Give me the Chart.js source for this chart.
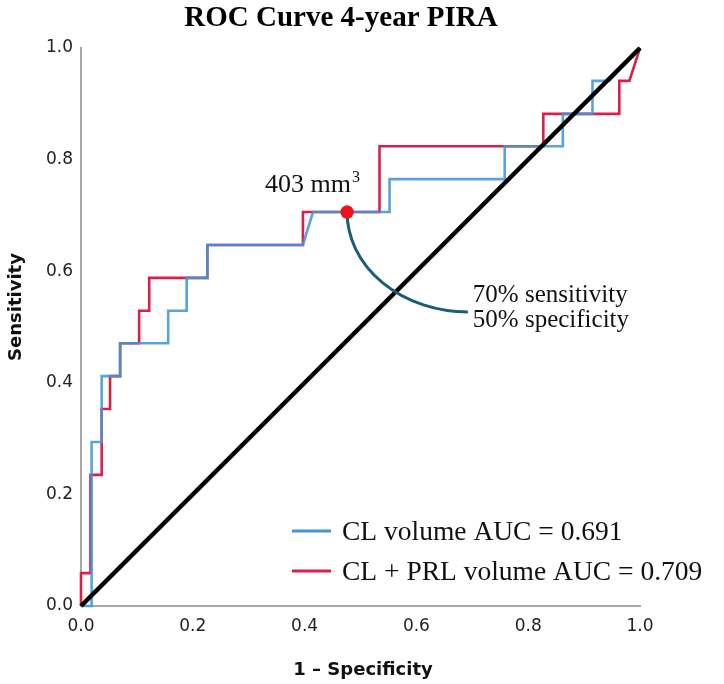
<!DOCTYPE html>
<html>
<head>
<meta charset="utf-8">
<script src="https://cdn.jsdelivr.net/npm/chart.js@4.4.1/dist/chart.umd.min.js"></script>
<style>
  html, body { margin: 0; padding: 0; background: #ffffff; }
  #wrap { width: 724px; height: 684px; position: relative; }
</style>
</head>
<body>
<div id="wrap"><canvas id="c" width="724" height="684"></canvas></div>
<script>
// ---- Data ----
const chartTitle = "ROC Curve 4-year PIRA";
const xAxisTitle = "1 \u2013 Specificity";
const yAxisTitle = "Sensitivity";
const tickValues = [0.0, 0.2, 0.4, 0.6, 0.8, 1.0];

const clLabel = "CL volume AUC = 0.691";
const clFpr = [0, 0.019, 0.019, 0.037, 0.037, 0.070, 0.070, 0.156, 0.156, 0.189, 0.189, 0.226, 0.226, 0.397, 0.415, 0.552, 0.552, 0.758, 0.758, 0.862, 0.862, 0.915, 0.915, 0.945, 1.0];
const clTpr = [0, 0, 0.294, 0.294, 0.412, 0.412, 0.471, 0.471, 0.529, 0.529, 0.588, 0.588, 0.647, 0.647, 0.706, 0.706, 0.765, 0.765, 0.824, 0.824, 0.882, 0.882, 0.941, 0.941, 1.0];

const prlLabel = "CL + PRL volume AUC = 0.709";
const prlFpr = [0, 0, 0.017, 0.017, 0.037, 0.037, 0.052, 0.052, 0.070, 0.070, 0.104, 0.104, 0.122, 0.122, 0.226, 0.226, 0.397, 0.397, 0.534, 0.534, 0.827, 0.827, 0.963, 0.963, 0.981, 1.0];
const prlTpr = [0, 0.059, 0.059, 0.235, 0.235, 0.353, 0.353, 0.412, 0.412, 0.471, 0.471, 0.529, 0.529, 0.588, 0.588, 0.647, 0.647, 0.706, 0.706, 0.824, 0.824, 0.882, 0.882, 0.941, 0.941, 1.0];

const refFpr = [0, 1];
const refTpr = [0, 1];

// cut-off point and its callout
const cutFpr = [0.476];
const cutTpr = [0.706];
const cutLabel = "403 mm";
const cutLabelSup = "3";
const calloutEnd = { x: 0.692, y: 0.527 };
const calloutLines = ["70% sensitivity", "50% specificity"];

// ---- Build ----
const toPts = (xs, ys) => xs.map((x, i) => ({ x: x, y: ys[i] }));

const BLUE = "rgba(66,150,216,0.88)";
const RED = "#dc1e4a";
const TEAL = "#1b5c76";

const overlay = {
  id: "overlay",
  afterDatasetsDraw(chart) {
    const ctx = chart.ctx;
    const xs = chart.scales.x, ys = chart.scales.y;
    ctx.save();
    // callout curve (quarter ellipse) from cut point to label
    const px = xs.getPixelForValue(cutFpr[0]);
    const py = ys.getPixelForValue(cutTpr[0]);
    const ex = xs.getPixelForValue(calloutEnd.x);
    const ey = ys.getPixelForValue(calloutEnd.y);
    ctx.strokeStyle = TEAL;
    ctx.lineWidth = 3;
    ctx.beginPath();
    ctx.ellipse(ex, py, ex - px, ey - py, 0, Math.PI / 2, Math.PI, false);
    ctx.stroke();
    // redraw dot on top
    ctx.fillStyle = "#f0101e";
    ctx.beginPath();
    ctx.arc(px, py, 6.5, 0, Math.PI * 2);
    ctx.fill();

    // title
    ctx.fillStyle = "#000";
    ctx.textAlign = "center";
    ctx.textBaseline = "alphabetic";
    ctx.font = "bold 29px 'Liberation Serif', 'Times New Roman', serif";
    ctx.fillText(chartTitle, 341, 26);

    // axis titles
    ctx.font = "bold 18px 'DejaVu Sans', sans-serif";
    ctx.fillStyle = "#111";
    ctx.textBaseline = "middle";
    ctx.fillText(xAxisTitle, 363, 670);
    ctx.save();
    ctx.translate(16, 307);
    ctx.rotate(-Math.PI / 2);
    ctx.fillText(yAxisTitle, 0, 0);
    ctx.restore();

    // cut-off label
    ctx.textBaseline = "alphabetic";
    ctx.textAlign = "left";
    ctx.fillStyle = "#111";
    ctx.font = "26px 'Liberation Serif', 'Times New Roman', serif";
    const lx = px - 82, ly = py - 20;
    ctx.fillText(cutLabel, lx, ly);
    const w = ctx.measureText(cutLabel).width;
    ctx.font = "16px 'Liberation Serif', 'Times New Roman', serif";
    ctx.fillText(cutLabelSup, lx + w + 1, ly - 10);

    // callout text
    ctx.font = "25px 'Liberation Serif', 'Times New Roman', serif";
    ctx.fillText(calloutLines[0], ex + 5, ey - 10);
    ctx.fillText(calloutLines[1], ex + 5, ey + 15);

    // legend
    const entries = [
      { label: clLabel, color: "#4296d8", y: 531 },
      { label: prlLabel, color: RED, y: 571 }
    ];
    ctx.font = "27.5px 'Liberation Serif', 'Times New Roman', serif";
    entries.forEach(e => {
      ctx.strokeStyle = e.color;
      ctx.lineWidth = 3;
      ctx.beginPath();
      ctx.moveTo(292, e.y);
      ctx.lineTo(331, e.y);
      ctx.stroke();
      ctx.fillStyle = "#111";
      ctx.fillText(e.label, 342, e.y + 9);
    });
    ctx.restore();
  }
};

new Chart(document.getElementById("c"), {
  type: "scatter",
  data: {
    datasets: [
      { label: "cut", data: toPts(cutFpr, cutTpr), showLine: false, pointRadius: 6.5, pointBackgroundColor: "#f0101e", pointBorderWidth: 0, order: 0 },
      { label: "reference", data: toPts(refFpr, refTpr), showLine: true, borderColor: "#000", borderWidth: 4.5, pointRadius: 0, clip: false, order: 1 },
      { label: clLabel, data: toPts(clFpr, clTpr), showLine: true, borderColor: BLUE, borderWidth: 2.6, pointRadius: 0, clip: false, order: 2 },
      { label: prlLabel, data: toPts(prlFpr, prlTpr), showLine: true, borderColor: RED, borderWidth: 2.6, pointRadius: 0, clip: false, order: 3 }
    ]
  },
  options: {
    responsive: false,
    animation: false,
    devicePixelRatio: 1,
    layout: { padding: { top: 48, right: 84, left: 0, bottom: 0 } },
    plugins: { legend: { display: false }, tooltip: { enabled: false }, title: { display: false } },
    scales: {
      x: {
        type: "linear", min: 0, max: 1,
        afterFit: s => { s.height = 78; },
        afterBuildTicks: s => { s.ticks = tickValues.map(v => ({ value: v })); },
        grid: { display: false, drawTicks: false },
        border: { display: true, color: "#a8a8a8", width: 2 },
        ticks: { padding: 10, color: "#222", font: { family: "'DejaVu Sans', sans-serif", size: 17 }, callback: v => Number(v).toFixed(1), maxRotation: 0 }
      },
      y: {
        type: "linear", min: 0, max: 1,
        afterFit: s => { s.width = 81; },
        afterBuildTicks: s => { s.ticks = tickValues.map(v => ({ value: v })); },
        grid: { display: false, drawTicks: false },
        border: { display: true, color: "#a8a8a8", width: 2 },
        ticks: { padding: 8, color: "#222", font: { family: "'DejaVu Sans', sans-serif", size: 17 }, callback: v => Number(v).toFixed(1) }
      }
    }
  },
  plugins: [overlay]
});
</script>
</body>
</html>
